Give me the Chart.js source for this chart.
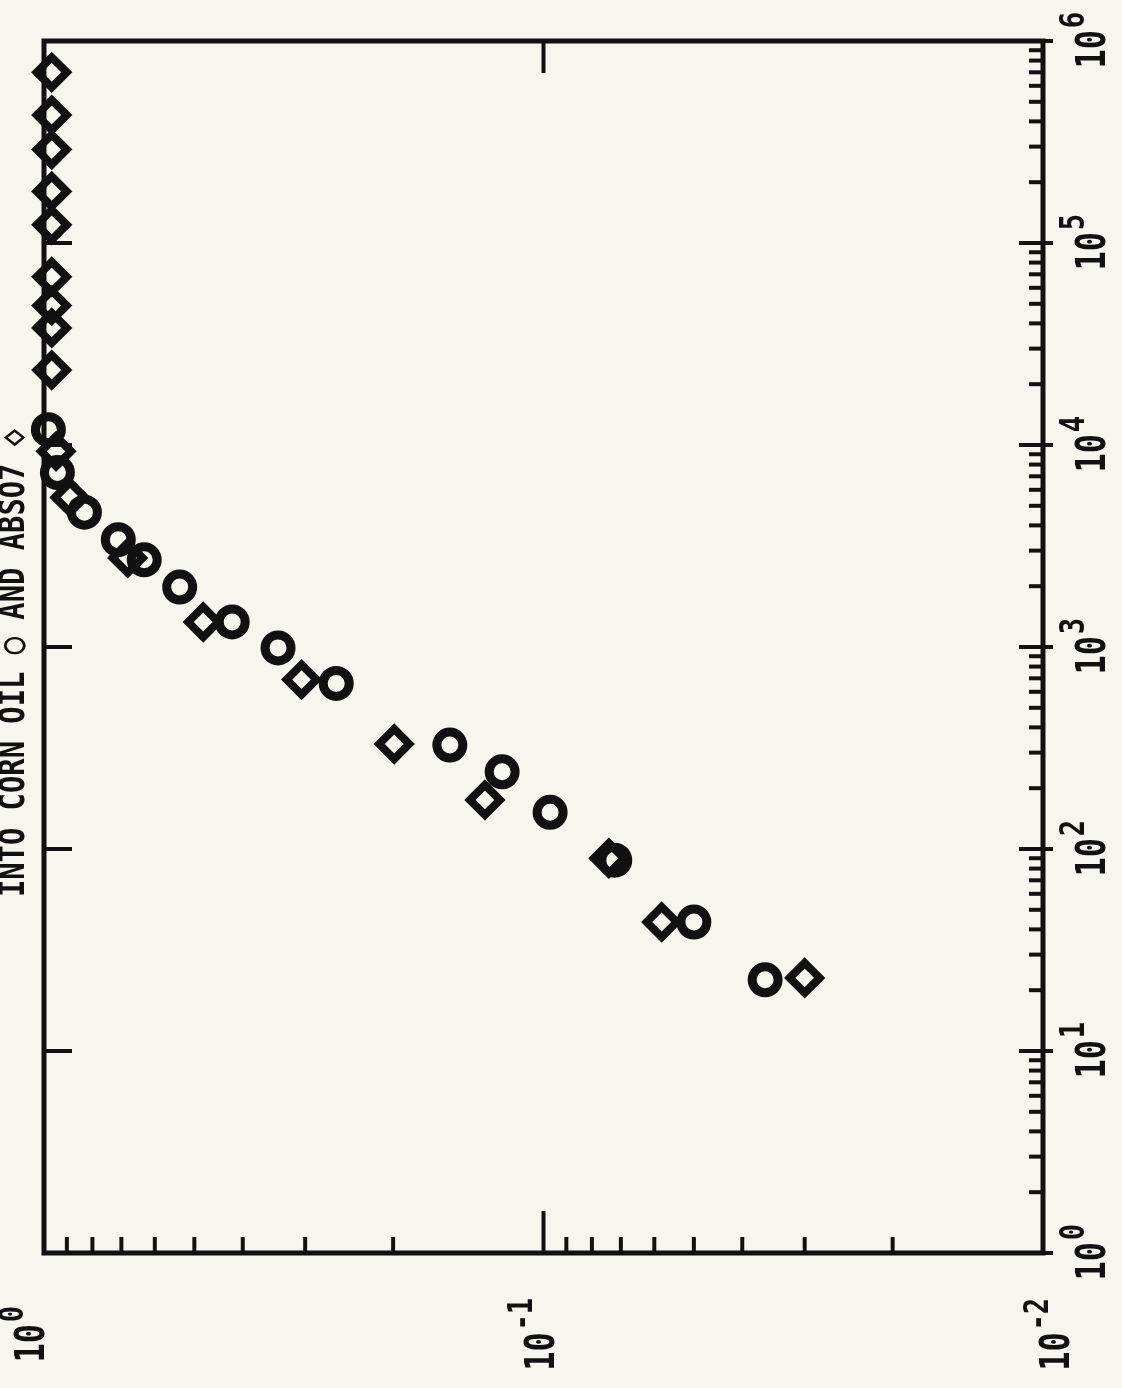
<!DOCTYPE html>
<html>
<head>
<meta charset="utf-8">
<script src="https://cdn.jsdelivr.net/npm/chart.js@4"></script>
<style>
  html, body { margin: 0; padding: 0; background: #f6f6ee; }
  #wrap { width: 1122px; height: 1388px; }
</style>
</head>
<body>
<div id="wrap"><canvas id="chart" width="1122" height="1388"></canvas></div>
<script>
// Plot is printed turned a quarter turn: fraction runs along the bottom (1 -> 0.01),
// time runs up the right side (1 -> 1e6).

const timeDecades = [1, 10, 100, 1e3, 1e4, 1e5, 1e6];
const timeExponents = ['0', '1', '2', '3', '4', '5', '6'];
const fracDecades = [1, 0.1, 0.01];
const fracExponents = ['0', '-1', '-2'];
const titleText = 'INTO CORN OIL \u25CB AND ABSO7 \u25C7';

// circles: corn oil
const cornOilTime = [11900, 7300, 4650, 3400, 2700, 1980, 1330, 990, 660, 327, 241, 152, 88, 43.5, 22.5];
const cornOilFrac = [0.98, 0.94, 0.83, 0.71, 0.63, 0.535, 0.42, 0.34, 0.26, 0.154, 0.121, 0.097, 0.072, 0.050, 0.036];

// diamonds: second liquid
const absoTime = [700000, 430000, 290000, 180000, 123000, 68000, 49000, 38000, 23500, 9300, 5500, 2760, 1330, 690, 331, 175, 90, 43.5, 23];
const absoFrac = [0.965, 0.965, 0.965, 0.965, 0.965, 0.965, 0.965, 0.965, 0.965, 0.946, 0.887, 0.68, 0.48, 0.305, 0.199, 0.131, 0.074, 0.058, 0.030];

const INK = '#111111';
const LABEL_FONT = 'bold 40px "DejaVu Sans Mono", monospace';
const SUP_FONT = 'bold 34px "DejaVu Sans Mono", monospace';

function toPoints(xs, ys) {
    return xs.map((t, i) => ({ x: ys[i], y: t }));
}

// draws "10" + raised exponent, turned to read bottom-to-top, centred on (cx, cy)
function drawPowerLabel(ctx, cx, cy, exp) {
    ctx.save();
    ctx.translate(cx, cy);
    ctx.rotate(-Math.PI / 2);
    ctx.scale(0.8, 1);
    ctx.fillStyle = INK;
    ctx.textBaseline = 'middle';
    ctx.textAlign = 'left';
    ctx.font = LABEL_FONT;
    const w10 = ctx.measureText('10').width;
    ctx.font = SUP_FONT;
    const wSup = ctx.measureText(exp).width;
    const start = -(w10 + wSup) / 2;
    ctx.font = LABEL_FONT;
    ctx.fillText('10', start, 0);
    ctx.font = SUP_FONT;
    ctx.fillText(exp, start + w10 + 2, -20);
    ctx.restore();
}

const frame = {
    id: 'frame',
    afterDatasetsDraw(chart) {
        const { ctx, chartArea: a, scales } = chart;
        const xs = scales.x, ys = scales.y;
        ctx.save();
        ctx.strokeStyle = INK;
        ctx.lineCap = 'square';

        // box
        ctx.lineWidth = 5;
        ctx.strokeRect(a.left, a.top, a.right - a.left, a.bottom - a.top);

        // time ticks on the right side, decades on the left side
        ctx.lineWidth = 4;
        timeDecades.forEach((d, i) => {
            const y = ys.getPixelForValue(d);
            ctx.beginPath();
            ctx.moveTo(a.right + 8, y); ctx.lineTo(a.right - 22, y);
            ctx.stroke();
            if (i > 0 && i < timeDecades.length - 1) {
                ctx.beginPath();
                ctx.moveTo(a.left, y); ctx.lineTo(a.left + 26, y);
                ctx.stroke();
            }
            if (i < timeDecades.length - 1) {
                for (let m = 2; m <= 9; m++) {
                    const ym = ys.getPixelForValue(d * m);
                    ctx.beginPath();
                    ctx.moveTo(a.right, ym); ctx.lineTo(a.right - 12, ym);
                    ctx.stroke();
                }
            }
        });

        // fraction ticks on the bottom
        fracDecades.forEach((d, i) => {
            const x = xs.getPixelForValue(d);
            if (i === 1) {
                ctx.beginPath();
                ctx.moveTo(x, a.bottom); ctx.lineTo(x, a.bottom - 40);
                ctx.moveTo(x, a.top); ctx.lineTo(x, a.top + 30);
                ctx.stroke();
            }
            if (i > 0) {
                for (let m = 2; m <= 9; m++) {
                    const xm = xs.getPixelForValue(d * m);
                    ctx.beginPath();
                    ctx.moveTo(xm, a.bottom); ctx.lineTo(xm, a.bottom - 14);
                    ctx.stroke();
                }
            }
        });

        // tick labels (end labels pushed outward past the corners)
        fracDecades.forEach((d, i) => {
            let x = xs.getPixelForValue(d);
            if (i === 0) x -= 10;
            if (i === fracDecades.length - 1) x += 16;
            drawPowerLabel(ctx, x, a.bottom + 82, fracExponents[i]);
        });
        timeDecades.forEach((d, i) => {
            drawPowerLabel(ctx, a.right + 52, ys.getPixelForValue(d), timeExponents[i]);
        });

        // title, along the left edge
        ctx.save();
        ctx.translate(24, (a.top + a.bottom) / 2 + 16);
        ctx.rotate(-Math.PI / 2);
        ctx.scale(0.8, 1);
        ctx.fillStyle = INK;
        ctx.font = 'bold 36px "DejaVu Sans Mono", monospace';
        ctx.textAlign = 'center';
        ctx.textBaseline = 'alphabetic';
        ctx.fillText(titleText, 0, 0);
        ctx.restore();

        ctx.restore();
    }
};

new Chart(document.getElementById('chart'), {
    type: 'scatter',
    data: {
        datasets: [
            {
                label: 'corn oil',
                data: toPoints(cornOilTime, cornOilFrac),
                pointStyle: 'circle',
                radius: 13,
                borderWidth: 9,
                borderColor: INK,
                backgroundColor: 'rgba(0,0,0,0)',
                clip: false
            },
            {
                label: 'abso',
                data: toPoints(absoTime, absoFrac),
                pointStyle: 'rectRot',
                radius: 15,
                borderWidth: 8,
                borderColor: INK,
                backgroundColor: 'rgba(0,0,0,0)',
                clip: false
            }
        ]
    },
    options: {
        responsive: false,
        animation: false,
        devicePixelRatio: 1,
        layout: { padding: { left: 44, top: 41, right: 79, bottom: 135 } },
        plugins: {
            legend: { display: false },
            tooltip: { enabled: false }
        },
        scales: {
            x: { type: 'logarithmic', display: false, reverse: true, min: 0.01, max: 1 },
            y: { type: 'logarithmic', display: false, min: 1, max: 1e6 }
        }
    },
    plugins: [frame]
});
</script>
</body>
</html>
